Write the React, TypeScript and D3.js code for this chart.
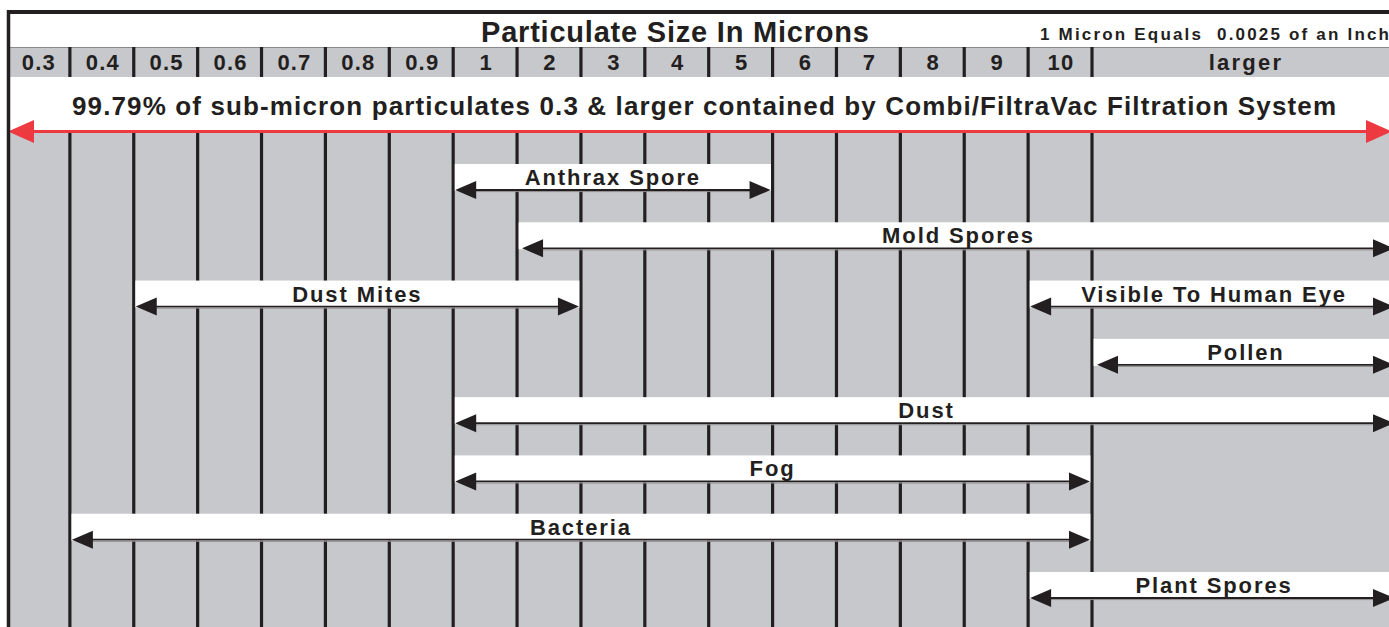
import React from 'react'
import * as d3 from 'd3'

// header columns (micron sizes), last one is the wide "larger" column
const sizeLabels = ['0.3', '0.4', '0.5', '0.6', '0.7', '0.8', '0.9', '1', '2', '3', '4', '5', '6', '7', '8', '9', '10']
const openLabel = 'larger'

// each particle type spans from one size column to another, on its own row
const particleNames = ['Anthrax Spore', 'Mold Spores', 'Dust Mites', 'Visible To Human Eye', 'Pollen', 'Dust', 'Fog', 'Bacteria', 'Plant Spores']
const particleFrom = ['1', '2', '0.5', '10', 'larger', '1', '1', '0.4', '10']
const particleTo = ['5', 'larger', '2', 'larger', 'larger', 'larger', '10', '10', 'larger']
const particleRow = [0, 1, 2, 2, 3, 4, 5, 6, 7]

const title = 'Particulate Size In Microns'
const note = '1 Micron Equals  0.0025 of an Inch'
const headline = '99.79% of sub-micron particulates 0.3 & larger contained by Combi/FiltraVac Filtration System'

const W = 1389
const H = 627
const INK = '#231f20'
const GRAY = '#c7c8cc'
const RED = '#ed3a41'
const FONT = '"Liberation Sans", Arial, Helvetica, sans-serif'

const App = () => {
  const x = d3.scaleBand().domain(sizeLabels).range([6, 1092]).paddingInner(0).paddingOuter(0)
  const right = 1400
  const colLeft = (l) => (l === openLabel ? x.range()[1] : x(l))
  const colRight = (l) => (l === openLabel ? right : x(l) + x.bandwidth())
  const rowY = d3.scaleLinear().domain([0, 7]).range([190, 598])

  const boundaries = sizeLabels.slice(1).map((l) => x(l)).concat([x.range()[1]])

  const bodyTop = 133
  const headTop = 47
  const headBottom = 77

  const arrowHead = (tipX, y, dir, len, half) =>
    `M${tipX},${y} L${tipX + dir * len},${y - half} L${tipX + dir * len},${y + half} Z`

  return (
    <svg width={W} height={H} style={{ position: 'absolute', left: 0, top: 0 }} fontFamily={FONT}>
      <rect x={0} y={0} width={W} height={H} fill="white" />
      {/* header row */}
      <rect x={8} y={headTop} width={right} height={headBottom - headTop} fill={GRAY} />
      <line x1={8} x2={right} y1={headTop + 0.5} y2={headTop + 0.5} stroke="#8a8a8e" strokeWidth={1} />
      {boundaries.map((bx, i) => (
        <line key={`hs-${i}`} x1={bx} x2={bx} y1={headTop} y2={headBottom} stroke={INK} strokeWidth={3.2} />
      ))}
      {sizeLabels.map((l) => (
        <text
          key={`hl-${l}`}
          x={x(l) + x.bandwidth() / 2 + 1}
          y={70}
          textAnchor="middle"
          fontSize={22}
          fontWeight="bold"
          letterSpacing={1.2}
          fill={INK}
        >
          {l}
        </text>
      ))}
      <text x={(colLeft(openLabel) + right) / 2} y={70} textAnchor="middle" fontSize={22} fontWeight="bold" letterSpacing={2.2} fill={INK}>
        {openLabel}
      </text>

      {/* body */}
      <rect x={8} y={bodyTop} width={right} height={H - bodyTop} fill={GRAY} />
      {boundaries.map((bx, i) => (
        <line key={`bl-${i}`} x1={bx} x2={bx} y1={bodyTop} y2={H} stroke={INK} strokeWidth={3.2} />
      ))}

      {particleNames.map((name, i) => {
        const x0 = colLeft(particleFrom[i])
        const x1 = colRight(particleTo[i])
        const y = rowY(particleRow[i])
        const openEnd = particleTo[i] === openLabel
        const tipL = x0 + (i === 1 || i === 4 ? 5 : 2)
        const tipR = openEnd ? 1394 : x1 - 2
        return (
          <g key={`p-${i}`}>
            <rect x={x0 + 1.6} y={y - 26} width={x1 - x0 - 3.2} height={27} fill="white" />
            <line x1={tipL + 10} x2={tipR - 10} y1={y} y2={y} stroke={INK} strokeWidth={1.8} />
            <line x1={tipL + 10} x2={tipR - 10} y1={y + 1.6} y2={y + 1.6} stroke="#8d8b8c" strokeWidth={1} />
            <path d={arrowHead(tipL, y, 1, 21, 9)} fill={INK} />
            <path d={arrowHead(tipR, y, -1, 21, 9)} fill={INK} />
            <text x={(x0 + x1) / 2} y={y - 5} textAnchor="middle" fontSize={22} fontWeight="bold" letterSpacing={1.9} fill={INK}>
              {name}
            </text>
          </g>
        )
      })}

      {/* headline band with red arrow */}
      <text x={704} y={115} textAnchor="middle" fontSize={26} fontWeight="bold" textLength={1264} lengthAdjust="spacing" fill={INK}>
        {headline}
      </text>
      <line x1={30} x2={1370} y1={131.5} y2={131.5} stroke={RED} strokeWidth={3.2} />
      <path d={arrowHead(8, 131.5, 1, 26, 11.5)} fill={RED} />
      <path d={arrowHead(1392, 131.5, -1, 26, 11.5)} fill={RED} />

      {/* title row */}
      <text x={675} y={42} textAnchor="middle" fontSize={29} fontWeight="bold" textLength={388} lengthAdjust="spacing" fill={INK}>
        {title}
      </text>
      <text x={1040} y={40} fontSize={17} fontWeight="bold" textLength={349} lengthAdjust="spacing" fill={INK} style={{ whiteSpace: 'pre' }}>
        {note}
      </text>

      {/* frame */}
      <line x1={8.5} x2={8.5} y1={10} y2={H} stroke={INK} strokeWidth={3.5} />
      <line x1={7} x2={right} y1={12} y2={12} stroke={INK} strokeWidth={3.8} />
    </svg>
  )
}

export default App
